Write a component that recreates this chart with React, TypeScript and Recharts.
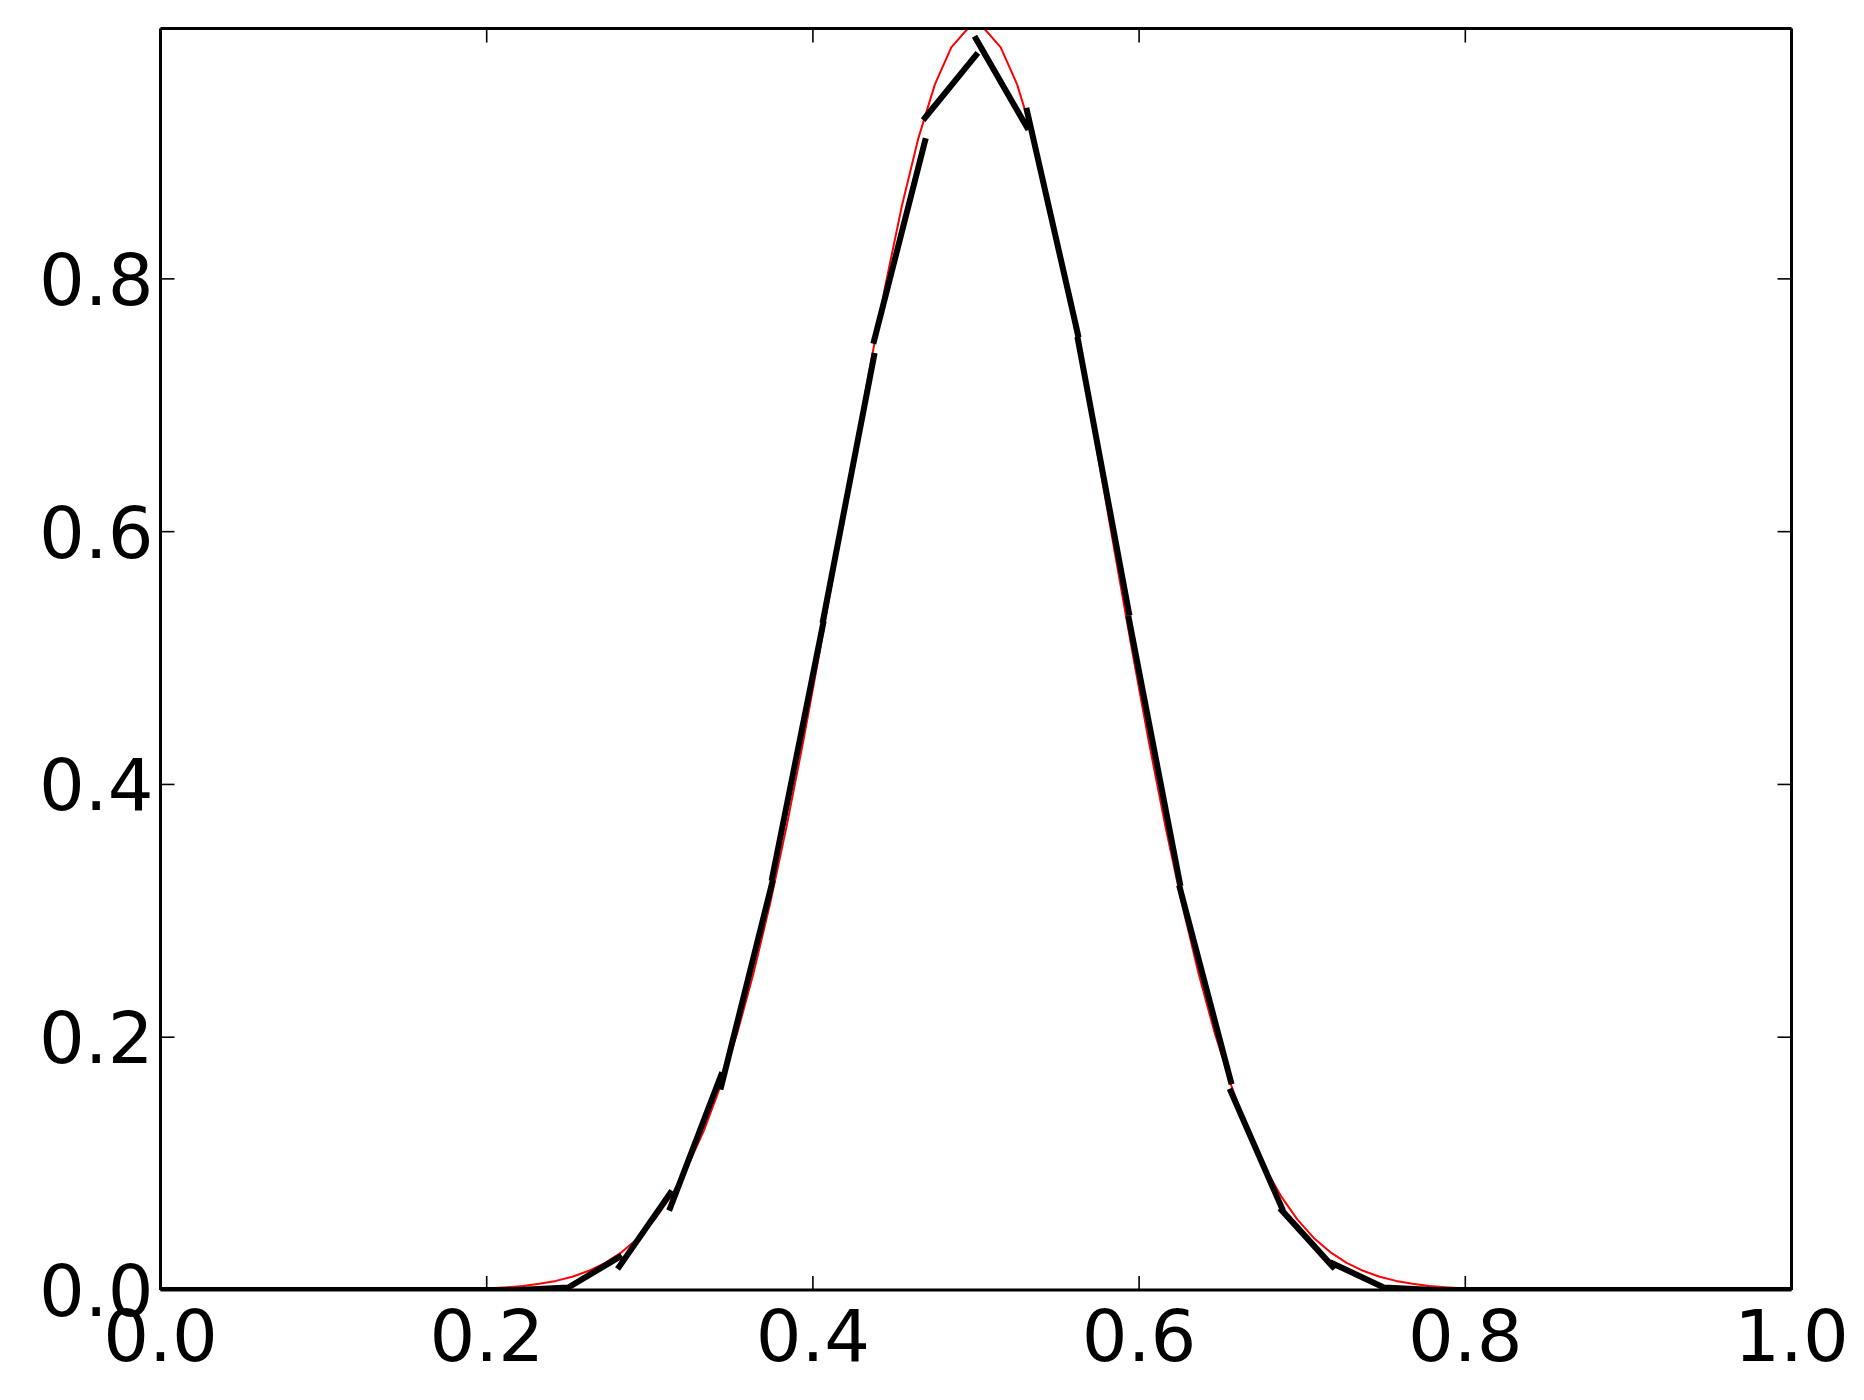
import React from "react";
import { LineChart, Line, XAxis, YAxis } from "recharts";

// Exact (red) curve, sampled on 100 evenly spaced x positions from 0 to 1
const exactValues: number[] = [
  0, 0, 0, 0, 0, 0, 0, 0, 0, 0,
  0, 0, 0, 0, 0, 0.0001, 0.0002, 0.0003, 0.0005, 0.0009,
  0.0014, 0.0021, 0.0032, 0.0049, 0.0072, 0.0105, 0.0152, 0.0215, 0.03, 0.0412,
  0.0559, 0.0745, 0.0979, 0.1267, 0.1616, 0.2029, 0.2509, 0.3056, 0.3666, 0.4332,
  0.5042, 0.578, 0.6526, 0.7258, 0.7949, 0.8576, 0.9112, 0.9537, 0.9831, 0.9981,
  0.9981, 0.9831, 0.9537, 0.9112, 0.8576, 0.7949, 0.7258, 0.6526, 0.578, 0.5042,
  0.4332, 0.3666, 0.3056, 0.2509, 0.2029, 0.1616, 0.1267, 0.0979, 0.0745, 0.0559,
  0.0412, 0.03, 0.0215, 0.0152, 0.0105, 0.0072, 0.0049, 0.0032, 0.0021, 0.0014,
  0.0009, 0.0005, 0.0003, 0.0002, 0.0001, 0, 0, 0, 0, 0,
  0, 0, 0, 0, 0, 0, 0, 0, 0, 0,
];

// Piecewise linear (black) approximation: 32 cells on [0, 1]
const cellEdges: number[] = [
  0, 0.03125, 0.0625, 0.09375, 0.125, 0.15625, 0.1875, 0.21875,
  0.25, 0.28125, 0.3125, 0.34375, 0.375, 0.40625, 0.4375, 0.46875,
  0.5, 0.53125, 0.5625, 0.59375, 0.625, 0.65625, 0.6875, 0.71875,
  0.75, 0.78125, 0.8125, 0.84375, 0.875, 0.90625, 0.9375, 0.96875, 1,
];
const cellLeftValues: number[] = [
  0, 0, 0, 0, 0, 0, 0, 0,
  0.002, 0.0185, 0.065, 0.161, 0.326, 0.53, 0.751, 0.9275,
  0.99, 0.933, 0.752, 0.531, 0.318, 0.157, 0.063, 0.021,
  0.002, 0, 0, 0, 0, 0, 0, 0,
];
const cellRightValues: number[] = [
  0, 0, 0, 0, 0, 0, 0, 0.002,
  0.026, 0.0766, 0.17, 0.322, 0.527, 0.739, 0.909, 0.977,
  0.92, 0.756, 0.536, 0.322, 0.165, 0.065, 0.0185, 0.002,
  0, 0, 0, 0, 0, 0, 0, 0,
];

const xTicks: number[] = [0, 0.2, 0.4, 0.6, 0.8, 1.0];
const yTicks: number[] = [0, 0.2, 0.4, 0.6, 0.8];
const yTop = 0.9981;

const exactData = exactValues.map((y, i) => ({ x: i / (exactValues.length - 1), y }));

const approxData: { x: number; y: number | null }[] = [];
cellLeftValues.forEach((left, i) => {
  approxData.push({ x: cellEdges[i], y: left });
  approxData.push({ x: cellEdges[i + 1], y: cellRightValues[i] });
  approxData.push({ x: cellEdges[i + 1], y: null });
});

const FONT = "DejaVu Sans";
const FONT_SIZE = 72;
const TICK_LEN = 14;
const TICK_W = 1.6;

const BottomTick = (props: any) => {
  const { x, y, payload } = props;
  return (
    <g>
      <line x1={x} y1={y} x2={x} y2={y - TICK_LEN} stroke="#000" strokeWidth={TICK_W} />
      <text x={x} y={y + 71} textAnchor="middle" fontSize={FONT_SIZE} fontFamily={FONT} fill="#000">
        {Number(payload.value).toFixed(1)}
      </text>
    </g>
  );
};

const TopTick = (props: any) => {
  const { x, y } = props;
  return <line x1={x} y1={y} x2={x} y2={y + TICK_LEN} stroke="#000" strokeWidth={TICK_W} />;
};

const LeftTick = (props: any) => {
  const { x, y, payload } = props;
  return (
    <g>
      <line x1={x} y1={y} x2={x + TICK_LEN} y2={y} stroke="#000" strokeWidth={TICK_W} />
      <text x={x - 7} y={y + 26} textAnchor="end" fontSize={FONT_SIZE} fontFamily={FONT} fill="#000">
        {Number(payload.value).toFixed(1)}
      </text>
    </g>
  );
};

const RightTick = (props: any) => {
  const { x, y } = props;
  return <line x1={x} y1={y} x2={x - TICK_LEN} y2={y} stroke="#000" strokeWidth={TICK_W} />;
};

const axisLineStyle = { stroke: "#000", strokeWidth: 3 };

export default function App() {
  return (
    <div style={{ width: 1856, height: 1392, background: "#fff" }}>
      <LineChart
        width={1856}
        height={1392}
        margin={{ top: 10.5, right: 62.5, bottom: 10, left: 0.5 }}
      >
        <XAxis
          xAxisId="main"
          type="number"
          dataKey="x"
          domain={[0, 1]}
          allowDataOverflow
          ticks={xTicks}
          interval={0}
          height={100}
          tickSize={0}
          tickMargin={0}
          tickLine={false}
          axisLine={axisLineStyle}
          tick={<BottomTick />}
        />
        <XAxis
          xAxisId="top"
          orientation="top"
          type="number"
          dataKey="x"
          domain={[0, 1]}
          allowDataOverflow
          ticks={xTicks}
          interval={0}
          height={10}
          tickSize={0}
          tickMargin={0}
          tickLine={false}
          axisLine={axisLineStyle}
          tick={<TopTick />}
        />
        <YAxis
          yAxisId="main"
          type="number"
          domain={[0, yTop]}
          allowDataOverflow
          ticks={yTicks}
          interval={0}
          width={152}
          tickSize={0}
          tickMargin={0}
          tickLine={false}
          axisLine={axisLineStyle}
          tick={<LeftTick />}
        />
        <YAxis
          yAxisId="right"
          orientation="right"
          type="number"
          domain={[0, yTop]}
          allowDataOverflow
          ticks={yTicks}
          interval={0}
          width={10}
          tickSize={0}
          tickMargin={0}
          tickLine={false}
          axisLine={axisLineStyle}
          tick={<RightTick />}
        />
        <Line
          xAxisId="top"
          yAxisId="right"
          data={exactData}
          dataKey="y"
          stroke="none"
          dot={false}
          activeDot={false}
          isAnimationActive={false}
        />
        <Line
          xAxisId="main"
          yAxisId="main"
          data={exactData}
          dataKey="y"
          type="linear"
          stroke="#ff0000"
          strokeWidth={2}
          strokeLinecap="square"
          strokeLinejoin="round"
          dot={false}
          activeDot={false}
          isAnimationActive={false}
        />
        <Line
          xAxisId="main"
          yAxisId="main"
          data={approxData}
          dataKey="y"
          type="linear"
          stroke="#000"
          strokeWidth={6}
          strokeLinecap="square"
          strokeLinejoin="round"
          connectNulls={false}
          dot={false}
          activeDot={false}
          isAnimationActive={false}
        />
      </LineChart>
    </div>
  );
}
